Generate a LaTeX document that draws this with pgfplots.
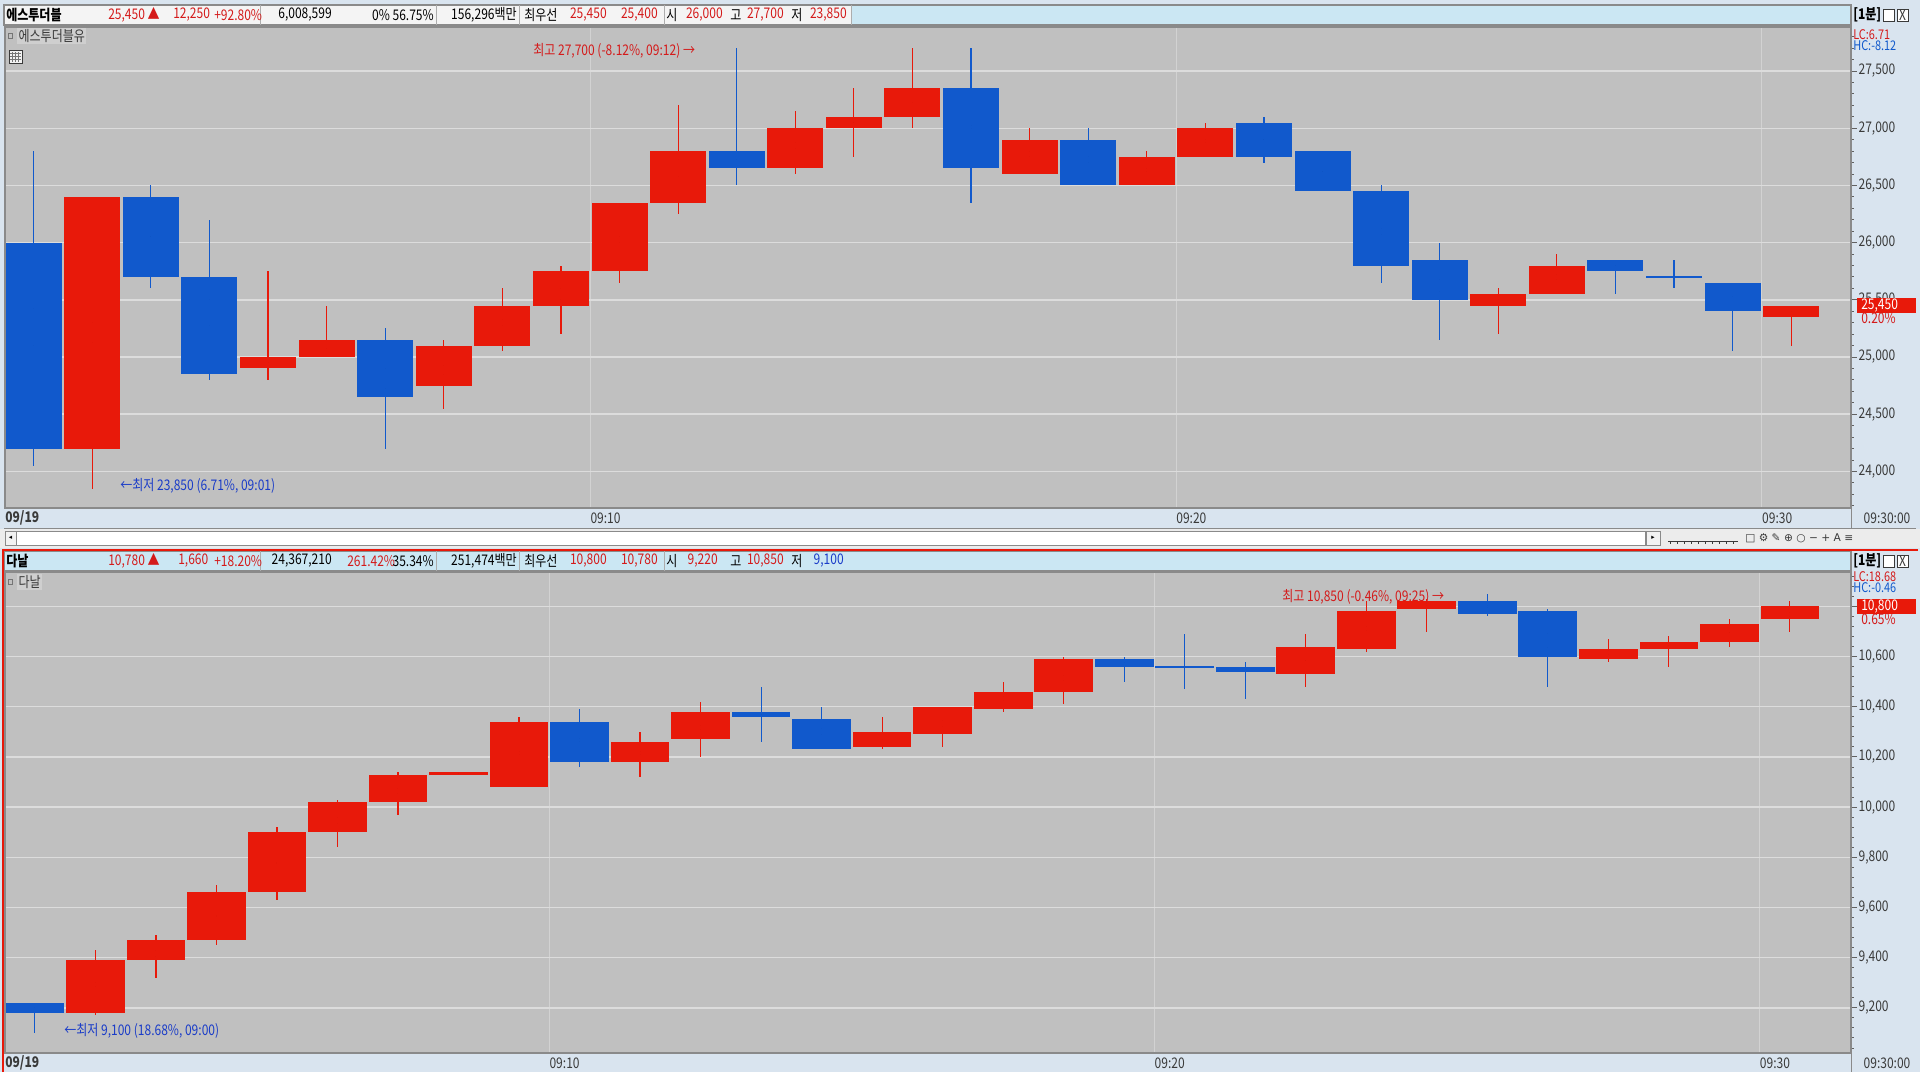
\documentclass[border=0pt]{standalone}
\usepackage{fontspec}
\setmainfont{Noto Sans CJK KR}[FakeStretch=0.82]
\newfontfamily\dejavu{DejaVu Sans}
\usepackage{pgfplots}
\usepackage{pgfplotstable}
\pgfplotsset{compat=1.18}

\definecolor{candlered}{HTML}{E8190A}
\definecolor{candleblue}{HTML}{1159CC}
\definecolor{plotbg}{HTML}{C0C0C0}
\definecolor{gridh}{HTML}{DCDCDC}
\definecolor{gridv}{HTML}{D2D2D2}
\definecolor{stripbg}{HTML}{D9E4EF}
\definecolor{headbg}{HTML}{CBE7F3}
\definecolor{cellbg}{HTML}{F4F4F4}
\definecolor{framec}{HTML}{8A8A8A}
\definecolor{txtred}{HTML}{D41A1A}
\definecolor{txtblue}{HTML}{1A3CC8}
\definecolor{labc}{HTML}{3A3A3A}

\newcommand{\fs}{\fontsize{11}{12}\selectfont}
\newcommand{\fss}{\fontsize{10}{11}\selectfont}

% 1-minute bars: index, open, high, low, close
\pgfplotstableread{
i o h l c
0 26000 26800 24050 24200
1 24200 26400 23850 26400
2 26400 26500 25600 25700
3 25700 26200 24800 24850
4 24900 25750 24800 25000
5 25000 25450 25000 25150
6 25150 25250 24200 24650
7 24750 25150 24550 25100
8 25100 25600 25050 25450
9 25450 25800 25200 25750
10 25750 26350 25650 26350
11 26350 27200 26250 26800
12 26800 27700 26500 26650
13 26650 27150 26600 27000
14 27000 27350 26750 27100
15 27100 27700 27000 27350
16 27350 27700 26350 26650
17 26600 27000 26600 26900
18 26900 27000 26500 26500
19 26500 26800 26500 26750
20 26750 27050 26750 27000
21 27050 27100 26700 26750
22 26800 26800 26450 26450
23 26450 26500 25650 25800
24 25850 26000 25150 25500
25 25450 25600 25200 25550
26 25550 25900 25550 25800
27 25850 25850 25550 25750
28 25700 25850 25600 25700
29 25650 25650 25050 25400
30 25350 25450 25100 25450
}\topdata

\pgfplotstableread{
i o h l c
0 9220 9220 9100 9180
1 9180 9430 9170 9390
2 9390 9490 9320 9470
3 9470 9690 9450 9660
4 9660 9920 9630 9900
5 9900 10030 9840 10020
6 10020 10140 9970 10130
7 10130 10140 10130 10140
8 10080 10360 10080 10340
9 10340 10390 10160 10180
10 10180 10300 10120 10260
11 10270 10420 10200 10380
12 10380 10480 10260 10360
13 10350 10400 10230 10230
14 10240 10360 10230 10300
15 10290 10400 10240 10400
16 10390 10500 10380 10460
17 10460 10600 10410 10590
18 10590 10600 10500 10560
19 10560 10690 10470 10560
20 10560 10580 10430 10540
21 10530 10690 10480 10640
22 10630 10820 10620 10780
23 10790 10830 10700 10820
24 10820 10850 10760 10770
25 10780 10790 10480 10600
26 10590 10670 10580 10630
27 10630 10680 10560 10660
28 10660 10750 10640 10730
29 10750 10820 10700 10800
}\botdata

\pgfplotsset{
  candle up/.style={x filter/.expression={\thisrow{c}>\thisrow{o} ? x : nan}},
  candle down/.style={x filter/.expression={\thisrow{c}>\thisrow{o} ? nan : x}},
  candle bars/.style 2 args={only marks, mark=*, mark size=0pt,
    mark options={draw=none, fill=none},
    error bars/.cd, y dir=both, y explicit, error mark=none,
    error bar style={draw=#1, line width=#2}},
  candle axis/.style={
    scale only axis, width=1384.5pt, height=360.75pt,
    anchor=north west,
    axis background/.style={fill=plotbg},
    axis line style={draw=framec, line width=0.9pt},
    xmajorgrids, ymajorgrids,
    major x grid style={draw=gridv, line width=0.75pt},
    major y grid style={draw=gridh, line width=1.1pt},
    ytick pos=right, yticklabel pos=right, xtick pos=left,
    tick align=outside,
    major tick length=4.5pt, minor tick length=2.2pt,
    x tick style={draw=none},
    y tick style={draw=labc!80, line width=0.7pt},
    scaled y ticks=false,
    tick label style={font=\fs, text=labc},
    xticklabel style={anchor=west, inner sep=0pt, yshift=-3pt},
    yticklabel style={inner sep=1pt,
      /pgf/number format/fixed, /pgf/number format/precision=0,
      /pgf/number format/1000 sep={,}, /pgf/number format/assume math mode=true},
  },
}

\begin{document}
\begin{tikzpicture}
\useasboundingbox (0,0) rectangle (1440pt,-804pt);

% ---------- window chrome (pixel coordinates, y down) ----------
\begin{scope}[x=0.75pt, y=-0.75pt, font=\fs, every node/.style={inner sep=0pt}]
\fill[stripbg] (0,0) rectangle (1920,1072);
% top header
\fill[headbg] (4,5) rectangle (1851,25);
\fill[cellbg] (4,5) rectangle (851,25);
\draw[framec, line width=0.9pt] (4,5) rectangle (1851,25);
\foreach \xx in {260,436,519,664,851} \draw[framec!70] (\xx,5) -- (\xx,25);
\node[anchor=west] at (6,15) {\textbf{에스투더블}};
\node[anchor=east, text=txtred] at (160,15) {25,450 ▲};
\node[anchor=west, text=txtred] at (173,15) {12,250};
\node[anchor=west, text=txtred] at (214,15) {+92.80\%};
\node[anchor=east] at (332,15) {6,008,599};
\node[anchor=east] at (434,15) {0\% 56.75\%};
\node[anchor=east] at (517,15) {156,296백만};
\node[anchor=west] at (524,15) {최우선};
\node[anchor=east, text=txtred] at (607,15) {25,450};
\node[anchor=east, text=txtred] at (658,15) {25,400};
\node[anchor=west] at (666,15) {시};
\node[anchor=east, text=txtred] at (723,15) {26,000};
\node[anchor=west] at (730,15) {고};
\node[anchor=east, text=txtred] at (784,15) {27,700};
\node[anchor=west] at (791,15) {저};
\node[anchor=east, text=txtred] at (847,15) {23,850};
\node[anchor=west] at (1853,15) {\textbf{[1분]}};
\draw[labc, fill=white] (1883,9) rectangle (1894,21);
\draw[labc, fill=white] (1897,9) rectangle (1908,21);
\node[text=labc] at (1902.5,15) {X};

% top time strip
\draw[framec] (4,528) -- (1916,528);
\draw[framec] (1851,508) -- (1851,528);
\node[text=labc] at (1887,518) {09:30:00};

% scrollbar / toolbar
\fill[gray!15] (0,529) rectangle (1920,548);
\draw[framec, fill=white] (16,531) rectangle (1645,545);
\draw[framec, fill=gray!10] (5,531) rectangle (16,545);
\node at (10.5,538) {\dejavu\tiny ◂};
\draw[framec, fill=gray!10] (1646,531) rectangle (1660,545);
\node at (1653,538) {\dejavu\tiny ▸};
\draw[labc] (1668,541) -- (1738,541);
\foreach \xx in {1670,1677,...,1736} \draw[labc] (\xx,541) -- (\xx,544);
\node[anchor=west, text=labc] at (1745,538) {\dejavu\footnotesize □ ⚙ ✎ ⊕ ○ − + A ≡};

% bottom header
\fill[headbg] (4,551) rectangle (1851,571);
\draw[framec, line width=0.9pt] (4,551) rectangle (1851,571);
\foreach \xx in {260,436,519,664} \draw[framec!70] (\xx,551) -- (\xx,571);
\node[anchor=west] at (6,561) {\textbf{다날}};
\node[anchor=east, text=txtred] at (160,561) {10,780 ▲};
\node[anchor=west, text=txtred] at (178,561) {1,660};
\node[anchor=west, text=txtred] at (214,561) {+18.20\%};
\node[anchor=east] at (332,561) {24,367,210};
\node[anchor=west, text=txtred] at (347,561) {261.42\%};
\node[anchor=east] at (434,561) {35.34\%};
\node[anchor=east] at (517,561) {251,474백만};
\node[anchor=west] at (524,561) {최우선};
\node[anchor=east, text=txtred] at (607,561) {10,800};
\node[anchor=east, text=txtred] at (658,561) {10,780};
\node[anchor=west] at (666,561) {시};
\node[anchor=east, text=txtred] at (718,561) {9,220};
\node[anchor=west] at (730,561) {고};
\node[anchor=east, text=txtred] at (784,561) {10,850};
\node[anchor=west] at (791,561) {저};
\node[anchor=east, text=txtblue] at (844,561) {9,100};
\node[anchor=west] at (1853,561) {\textbf{[1분]}};
\draw[labc, fill=white] (1883,555) rectangle (1894,567);
\draw[labc, fill=white] (1897,555) rectangle (1908,567);
\node[text=labc] at (1902.5,561) {X};

% bottom time strip
\draw[framec] (1851,1053) -- (1851,1072);
\node[text=labc] at (1887,1063) {09:30:00};
\end{scope}

% ---------- top panel: 에스투더블유 ----------
\begin{axis}[candle axis, at={(3.75pt,-20.25pt)},
  xmin=-0.49, xmax=31.02, ymin=23680, ymax=27885,
  xtick={-0.49,9.5,19.5,29.5}, xticklabels={\textbf{09/19},09:10,09:20,09:30},
  ytick={24000,24500,...,27500}, minor ytick={23700,23800,...,27800}]
\addplot[candle up, candle bars={candlered}{0.9pt}] table[x=i, y expr={(\thisrow{h}+\thisrow{l})/2}, y error expr={(\thisrow{h}-\thisrow{l})/2}] {\topdata};
\addplot[candle down, candle bars={candleblue}{0.9pt}] table[x=i, y expr={(\thisrow{h}+\thisrow{l})/2}, y error expr={(\thisrow{h}-\thisrow{l})/2}] {\topdata};
\addplot[candle up, candle bars={candlered}{42pt}] table[x=i, y expr={(\thisrow{o}+\thisrow{c})/2}, y error expr={max(abs(\thisrow{c}-\thisrow{o})/2,9)}] {\topdata};
\addplot[candle down, candle bars={candleblue}{42pt}] table[x=i, y expr={(\thisrow{o}+\thisrow{c})/2}, y error expr={max(abs(\thisrow{c}-\thisrow{o})/2,9)}] {\topdata};
\end{axis}

% ---------- bottom panel: 다날 ----------
\begin{axis}[candle axis, at={(3.75pt,-429pt)},
  xmin=-0.494, xmax=30.01, ymin=9020, ymax=10937,
  xtick={-0.494,8.5,18.5,28.5}, xticklabels={\textbf{09/19},09:10,09:20,09:30},
  ytick={9200,9400,...,10800}, minor ytick={9040,9080,...,10920}]
\addplot[candle up, candle bars={candlered}{0.9pt}] table[x=i, y expr={(\thisrow{h}+\thisrow{l})/2}, y error expr={(\thisrow{h}-\thisrow{l})/2}] {\botdata};
\addplot[candle down, candle bars={candleblue}{0.9pt}] table[x=i, y expr={(\thisrow{h}+\thisrow{l})/2}, y error expr={(\thisrow{h}-\thisrow{l})/2}] {\botdata};
\addplot[candle up, candle bars={candlered}{44pt}] table[x=i, y expr={(\thisrow{o}+\thisrow{c})/2}, y error expr={max(abs(\thisrow{c}-\thisrow{o})/2,4)}] {\botdata};
\addplot[candle down, candle bars={candleblue}{44pt}] table[x=i, y expr={(\thisrow{o}+\thisrow{c})/2}, y error expr={max(abs(\thisrow{c}-\thisrow{o})/2,4)}] {\botdata};
\end{axis}

% ---------- overlays ----------
\begin{scope}[x=0.75pt, y=-0.75pt, font=\fs, every node/.style={inner sep=0pt}]
% top panel labels
\draw[labc!70] (8,33) rectangle (12,38);
\node[anchor=west, fill=gray!38, text=labc, inner sep=1pt] at (17,36) {에스투더블유};
\draw[labc, fill=gray!10] (9,50) rectangle (22,63);
\foreach \yy in {53,56,59} \draw[labc!70] (10,\yy) -- (21,\yy);
\foreach \xx in {12,15,18} \draw[labc!70] (\xx,52) -- (\xx,62);
\node[anchor=west, text=txtred] at (533,51) {최고 27,700 (-8.12\%, 09:12) →};
\node[anchor=west, text=txtblue] at (120,486) {←최저 23,850 (6.71\%, 09:01)};
\node[anchor=west, text=txtred, font=\fss] at (1853,35) {LC:6.71};
\node[anchor=west, text=candleblue, font=\fss] at (1853,46) {HC:-8.12};
\fill[candlered] (1857,298) rectangle (1916,313);
\node[anchor=west, text=white] at (1861,305.5) {25,450};
\node[anchor=west, text=txtred] at (1861,318) {0.20\%};
% bottom panel labels
\draw[labc!70] (8,579) rectangle (12,584);
\node[anchor=west, fill=gray!38, text=labc, inner sep=1pt] at (17,582) {다날};
\node[anchor=west, text=txtred] at (1282,597) {최고 10,850 (-0.46\%, 09:25) →};
\node[anchor=west, text=txtblue] at (64,1031) {←최저 9,100 (18.68\%, 09:00)};
\node[anchor=west, text=txtred, font=\fss] at (1853,577) {LC:18.68};
\node[anchor=west, text=candleblue, font=\fss] at (1853,588) {HC:-0.46};
\fill[candlered] (1857,599) rectangle (1916,614);
\node[anchor=west, text=white] at (1861,606.5) {10,800};
\node[anchor=west, text=txtred] at (1861,619) {0.65\%};
% active-window frame
\draw[candlered, line width=1.2pt] (3,1072) -- (3,550) -- (1918,550);
\end{scope}
\end{tikzpicture}
\end{document}
